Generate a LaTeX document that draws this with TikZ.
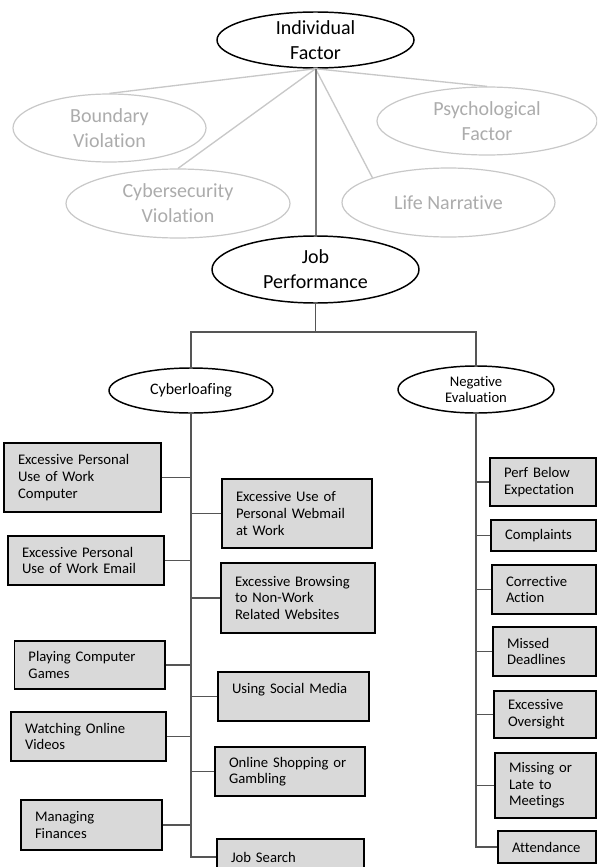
\documentclass[tikz,border=0pt]{standalone}
\usepackage{fontspec}
\setmainfont{Carlito}[Ligatures=NoCommon]
\usetikzlibrary{shapes.geometric}

\definecolor{boxgray}{RGB}{217,217,217}
\definecolor{faintline}{RGB}{200,200,200}
\definecolor{fainttext}{RGB}{172,172,172}
\definecolor{linkgray}{RGB}{85,85,85}

\begin{document}
\begin{tikzpicture}[x=0.75pt,y=-0.75pt]
\tikzset{
  bignode/.style={ellipse,draw,line width=1.1pt,fill=white,inner sep=0pt,align=center,font=\fontsize{15}{18.75}\selectfont},
  faintnode/.style={bignode,draw=faintline,line width=0.9pt,text=fainttext},
  subnode/.style={ellipse,draw,line width=1.1pt,fill=white,inner sep=0pt,align=center,font=\fontsize{11}{11.5}\selectfont},
  itembox/.style={rectangle,draw,line width=1.1pt,fill=boxgray,inner xsep=10.5pt,inner ysep=0pt,align=left,font=\fontsize{11}{12.5}\selectfont},
  faintlink/.style={draw=faintline,line width=1pt},
  mainlink/.style={draw=gray!95!black,line width=1.5pt},
  link/.style={draw=linkgray,line width=0.9pt}
}
\clip (0,0) rectangle (597,867);
\fill[white] (0,0) rectangle (597,867);
\node[bignode,minimum width=147.75pt,minimum height=42pt] (n_ind) at (315.5,40) {Individual\\Factor};
\node[faintnode,minimum width=144.75pt,minimum height=51pt] (n_bv) at (109.5,128) {Boundary\\Violation};
\node[faintnode,minimum width=165pt,minimum height=51pt] (n_pf) at (487,121) {Psychological\\Factor};
\node[faintnode,minimum width=168pt,minimum height=51.75pt] (n_cv) at (178,203.5) {Cybersecurity\\Violation};
\node[faintnode,minimum width=159.75pt,minimum height=51.75pt] (n_ln) at (448.5,202.5) {Life Narrative};
\node[bignode,minimum width=155.25pt,minimum height=50.25pt] (n_jp) at (315.5,269.5) {Job\\Performance};
\node[subnode,minimum width=123pt,minimum height=33.75pt,font=\fontsize{12}{13}\selectfont] (n_cyb) at (191,390.5) {Cyberloafing};
\node[subnode,minimum width=117pt,minimum height=35.25pt] (n_neg) at (476,389.5) {Negative\\Evaluation};
\coordinate (n_split) at (315.5,332);
\node[itembox,text width=96.75pt,minimum height=51.75pt] (n_l1) at (82.5,477.5) {Excessive Personal\\Use of Work\\Computer};
\node[itembox,text width=96pt,minimum height=36.75pt] (n_l2) at (86,560.5) {Excessive Personal\\Use of Work Email};
\node[itembox,text width=91.875pt,minimum height=36pt] (n_l3) at (89.75,665) {Playing Computer\\Games};
\node[itembox,text width=95.25pt,minimum height=36.75pt] (n_l4) at (88.5,736.5) {Watching Online\\Videos};
\node[itembox,text width=84.75pt,minimum height=37.5pt] (n_l5) at (91.5,825) {Managing\\Finances};
\node[itembox,text width=91.5pt,minimum height=51.75pt] (n_m1) at (297,513.5) {Excessive Use of\\Personal Webmail\\at Work};
\node[itembox,text width=94.5pt,minimum height=52.5pt] (n_m2) at (298,598) {Excessive Browsing\\to Non-Work\\Related Websites};
\node[itembox,text width=92.25pt,minimum height=36.75pt] (n_m3) at (293.5,696.5) {Using Social Media\\\mbox{}};
\node[itembox,text width=91.5pt,minimum height=36.75pt] (n_m4) at (290,771.5) {Online Shopping or\\Gambling};
\node[itembox,text width=89.25pt,minimum height=27pt] (n_m5) at (290.5,857) {Job Search};
\node[itembox,text width=58.5pt,minimum height=36pt] (n_r1) at (543,482) {Perf Below\\Expectation};
\node[itembox,text width=57.75pt,minimum height=23.25pt] (n_r2) at (543.5,535.5) {Complaints};
\node[itembox,text width=57pt,minimum height=36.75pt] (n_r3) at (544,589.5) {Corrective\\Action};
\node[itembox,text width=56.25pt,minimum height=36.75pt] (n_r4) at (544.5,651.5) {Missed\\Deadlines};
\node[itembox,text width=55.5pt,minimum height=35.25pt] (n_r5) at (545,714.5) {Excessive\\Oversight};
\node[itembox,text width=54.75pt,minimum height=48.75pt] (n_r6) at (545.5,785.5) {Missing or\\Late to\\Meetings};
\node[itembox,text width=52.5pt,minimum height=24pt] (n_r7) at (547,847) {Attendance};
\draw[faintlink] (n_ind.south) -- (n_bv.north);
\draw[faintlink] (n_ind.south) -- (n_pf.north);
\draw[faintlink] (n_ind.south) -- (n_cv.north);
\draw[faintlink] (n_ind.south) -- (n_ln.162);
\draw[mainlink] (n_ind.south) -- (n_jp.north);
\draw[link] (n_jp.south) -- (n_split) -| (n_cyb.north);
\draw[link] (n_split) -| (n_neg.north);
\draw[link] (n_cyb.south) |- (n_m5.west);
\draw[link] (n_neg.south) |- (n_r7.west);
\foreach \b in {n_l1,n_l2,n_l3,n_l4,n_l5}
  \draw[link] (\b.east) -- (\b.east -| n_cyb.south);
\foreach \b in {n_m1,n_m2,n_m3,n_m4}
  \draw[link] (\b.west) -- (\b.west -| n_cyb.south);
\foreach \b in {n_r1,n_r2,n_r3,n_r4,n_r5,n_r6}
  \draw[link] (\b.west) -- (\b.west -| n_neg.south);
\end{tikzpicture}
\end{document}
